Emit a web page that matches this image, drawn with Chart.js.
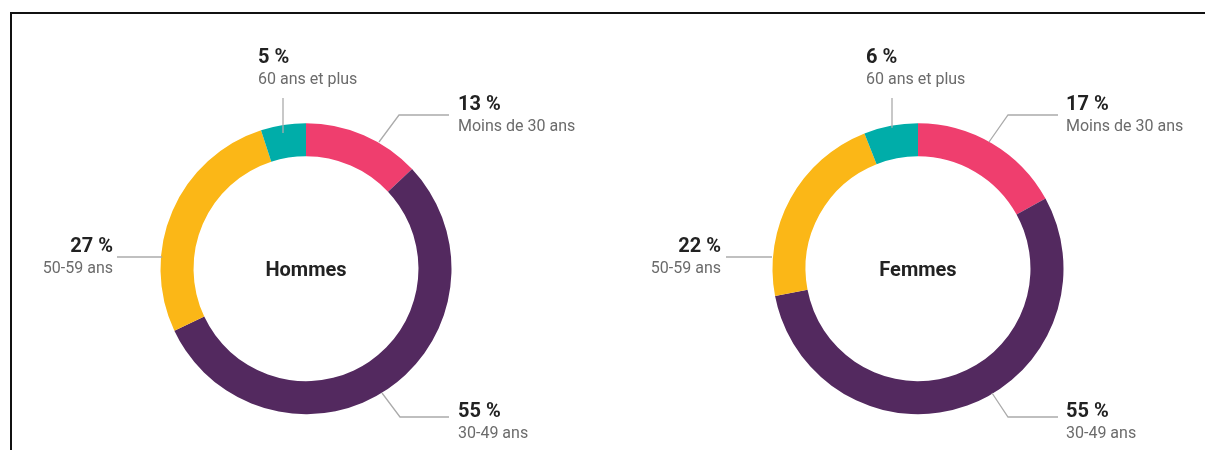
<!DOCTYPE html>
<html><head><meta charset="utf-8">
<script src="https://cdn.jsdelivr.net/npm/chart.js@4.4.0/dist/chart.umd.min.js"></script>
<style>
html,body{margin:0;padding:0;background:#fff;width:1205px;height:450px;overflow:hidden;}
#frame{position:absolute;left:10px;top:12px;width:1300px;height:500px;border-left:2px solid #111;border-top:2px solid #111;box-sizing:border-box;}
.wrap{position:absolute;top:0;height:450px;}
canvas{display:block;}
</style></head><body>
<div id="frame"></div>
<div class="wrap" style="left:0;width:612px"><canvas id="c1" width="612" height="450"></canvas></div>
<div class="wrap" style="left:612px;width:593px"><canvas id="c2" width="593" height="450"></canvas></div>
<script>
// ---- data ----
const categories = ['Moins de 30 ans', '30-49 ans', '50-59 ans', '60 ans et plus'];
const hommesValues = [13, 55, 27, 5];
const femmesValues = [17, 55, 22, 6];
const chartTitles = ['Hommes', 'Femmes'];

// ---- styles ----
const segmentColors = ['#EF3E6E', '#53295F', '#FBB717', '#00ADA9'];
const FONT = 'Roboto, "Noto Sans", sans-serif';

// label layout (offsets from donut centre): line polyline, text anchor
const layoutHommes = [
  {pts: [[73,-126.7],[93,-153.7],[143,-153.7]], tx: 152, ty: -158.7, align: 'left'},
  {pts: [[76,124.3],[94,148.3],[143,148.3]], tx: 152, ty: 148.3, align: 'left'},
  {pts: [[-144,-11.7],[-189,-11.7]], tx: -193, ty: -16.7, align: 'right'},
  {pts: [[-23,-135.7],[-23,-170.7]], tx: -48, ty: -205.7, align: 'left'}
];
const layoutFemmes = [
  {pts: [[71,-126.7],[90,-153.7],[140,-153.7]], tx: 148, ty: -158.7, align: 'left'},
  {pts: [[74,124.3],[90,148.3],[140,148.3]], tx: 148, ty: 148.3, align: 'left'},
  {pts: [[-146,-11.7],[-192,-11.7]], tx: -197, ty: -16.7, align: 'right'},
  {pts: [[-26,-141],[-26,-170.7]], tx: -52, ty: -205.7, align: 'left'}
];

const labelPlugin = {
  id: 'donutLabels',
  afterDraw(chart, args, opts) {
    const ctx = chart.ctx;
    const arc = chart.getDatasetMeta(0).data[0];
    const cx = arc.x, cy = arc.y;
    const values = chart.data.datasets[0].data;
    const labels = chart.data.labels;
    ctx.save();
    // leader lines
    ctx.strokeStyle = '#ABABAB';
    ctx.lineWidth = 1.3;
    opts.layout.forEach((l) => {
      ctx.beginPath();
      l.pts.forEach((p, i) => {
        const x = cx + p[0], y = cy + p[1];
        if (i === 0) ctx.moveTo(x, y); else ctx.lineTo(x, y);
      });
      ctx.stroke();
    });
    // texts
    opts.layout.forEach((l, i) => {
      ctx.textAlign = l.align;
      ctx.textBaseline = 'alphabetic';
      ctx.fillStyle = '#222';
      ctx.font = 'bold 20px ' + FONT;
      ctx.fillText(values[i] + '\u00a0%', cx + l.tx, cy + l.ty);
      ctx.fillStyle = '#6b6b6b';
      ctx.font = '16px ' + FONT;
      ctx.fillText(labels[i], cx + l.tx, cy + l.ty + 20.5);
    });
    // centre title
    ctx.textAlign = 'center';
    ctx.fillStyle = '#222';
    ctx.font = 'bold 20px ' + FONT;
    ctx.fillText(opts.title, cx, cy + 7);
    ctx.restore();
  }
};

function makeChart(id, values, title, layout, pad) {
  return new Chart(document.getElementById(id), {
    type: 'doughnut',
    data: {
      labels: categories,
      datasets: [{
        data: values,
        backgroundColor: segmentColors,
        borderWidth: 0,
        hoverOffset: 0
      }]
    },
    options: {
      responsive: false,
      animation: false,
      cutout: '77.3%',
      rotation: 0,
      layout: {padding: pad},
      events: [],
      plugins: {
        legend: {display: false},
        tooltip: {enabled: false},
        donutLabels: {layout: layout, title: title}
      }
    },
    plugins: [labelPlugin]
  });
}

makeChart('c1', hommesValues, chartTitles[0], layoutHommes, {left: 160.5, right: 160.5, top: 123.2, bottom: 35.8});
makeChart('c2', femmesValues, chartTitles[1], layoutFemmes, {left: 160.5, right: 141.5, top: 123.2, bottom: 35.8});
</script>
</body></html>
